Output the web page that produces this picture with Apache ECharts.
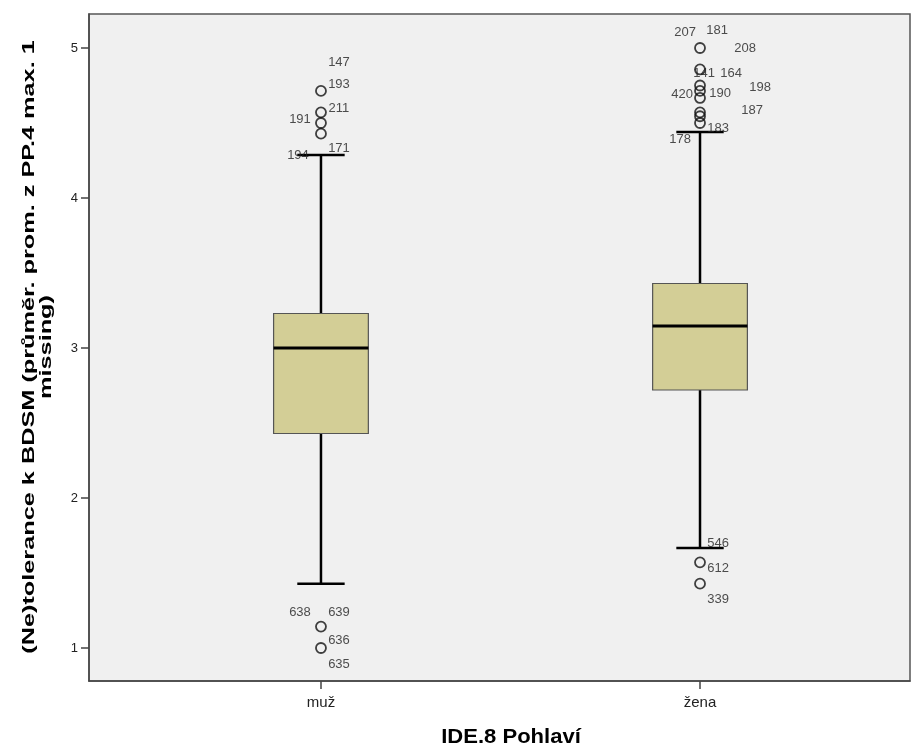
<!DOCTYPE html>
<html><head><meta charset="utf-8">
<script src="https://cdn.jsdelivr.net/npm/echarts@6/dist/echarts.min.js"></script>
<style>html,body{margin:0;padding:0;background:#fff}#c{width:920px;height:747px}</style>
</head><body><div id="c"></div>
<script>
// ---- data ----
const categories = ['muž', 'žena'];
const whiskerLow = [1.429, 1.667];
const q1 = [2.43, 2.72];
const median = [3.0, 3.147];
const q3 = [3.23, 3.43];
const whiskerHigh = [4.286, 4.44];
const outliersMuz = [4.714, 4.571, 4.5, 4.429, 1.143, 1.0];
const outliersZena = [5.0, 4.857, 4.75, 4.714, 4.667, 4.571, 4.545, 4.5, 1.571, 1.429];
const yTicks = [1, 2, 3, 4, 5];
const labelIds = ['147','193','211','191','194','171','638','639','636','635',
                  '207','181','208','141','164','198','420','190','187','183','178','546','612','339'];
const labelCat = [0,0,0,0,0,0,0,0,0,0, 1,1,1,1,1,1,1,1,1,1,1,1,1,1];
const labelVal = [4.714,4.714,4.571,4.5,4.286,4.286,1.143,1.143,1.0,1.0,
                  5.0,5.0,5.0,4.857,4.857,4.714,4.714,4.714,4.571,4.5,4.44,1.667,1.571,1.429];
const yTitle = '(Ne)tolerance k BDSM (průměr. prom. z PP.4 max. 1\nmissing)';
const xTitle = 'IDE.8 Pohlaví';
// ---- styling (label text offsets in px) ----
const labelOffset = [[18,-28],[18,-6],[18,-4],[-21,-4],[-23,0],[18,-7],[-21,-14],[18,-14],[18,-8],[18,16],
                     [-15,-16],[17,-18],[45,0],[4,4],[31,4],[60,-3],[-18,4],[20,3],[52,-2],[18,5],[-20,7],[18,-5],[18,6],[18,16]];
const boxFrac = 0.25, capFrac = 0.125;
const FONT = '"Liberation Sans", Arial, sans-serif';

const chart = echarts.init(document.getElementById('c'), null, {renderer: 'canvas'});
const boxData = categories.map((c, i) => [i, whiskerLow[i], q1[i], median[i], q3[i], whiskerHigh[i]]);
const outData = [].concat(outliersMuz.map(v => [0, v]), outliersZena.map(v => [1, v]));
const lblData = labelIds.map((id, i) => ({
  name: id, value: [labelCat[i], labelVal[i]],
  label: {offset: labelOffset[i]}
}));

chart.setOption({
  animation: false,
  backgroundColor: '#fff',
  grid: {left: 89, top: 14, right: 10, bottom: 66, show: true, backgroundColor: '#f0f0f0',
         borderColor: '#555', borderWidth: 1.5, containLabel: false, outerBoundsMode: 'none'},
  graphic: [
    {type: 'text', x: 38, y: 347, rotation: Math.PI / 2, scaleX: 1.58,
     style: {text: yTitle, font: 'bold 16px ' + FONT, fill: '#000', align: 'center',
             verticalAlign: 'middle', lineHeight: 17}},
    {type: 'text', x: 511, y: 737, scaleX: 1.05,
     style: {text: xTitle, font: 'bold 21px ' + FONT, fill: '#000', align: 'center', verticalAlign: 'middle'}}
  ],
  xAxis: {
    type: 'value', min: -0.612, max: 1.554,
    axisLine: {show: true, onZero: false, lineStyle: {color: '#444', width: 1.5}},
    axisTick: {show: true, length: 8, customValues: [0, 1], lineStyle: {color: '#444', width: 1.5}},
    axisLabel: {customValues: [0, 1], formatter: v => categories[Math.round(v)], fontFamily: FONT,
                fontSize: 15, color: '#222', margin: 14},
    splitLine: {show: false}
  },
  yAxis: {
    type: 'value', min: 0.78, max: 5.2267,
    axisLine: {show: true, onZero: false, lineStyle: {color: '#444', width: 1.5}},
    axisTick: {show: true, length: 8, customValues: yTicks, lineStyle: {color: '#444', width: 1.5}},
    axisLabel: {customValues: yTicks, fontFamily: FONT, fontSize: 13, color: '#222', margin: 11},
    splitLine: {show: false}
  },
  series: [
    {
      type: 'custom', data: boxData, encode: {x: 0, y: [1, 2, 3, 4, 5]}, z: 2,
      renderItem: function (params, api) {
        const i = api.value(0);
        const unit = api.size([1, 0])[0];
        const hw = unit * boxFrac / 2, cw = unit * capFrac / 2;
        const x = api.coord([i, api.value(3)])[0];
        const yLo = api.coord([i, api.value(1)])[1];
        const yQ1 = api.coord([i, api.value(2)])[1];
        const yMed = api.coord([i, api.value(3)])[1];
        const yQ3 = api.coord([i, api.value(4)])[1];
        const yHi = api.coord([i, api.value(5)])[1];
        const ls = {stroke: '#000', lineWidth: 2.5};
        return {type: 'group', children: [
          {type: 'line', shape: {x1: x, y1: yLo, x2: x, y2: yQ1}, style: ls},
          {type: 'line', shape: {x1: x, y1: yQ3, x2: x, y2: yHi}, style: ls},
          {type: 'line', shape: {x1: x - cw, y1: yLo, x2: x + cw, y2: yLo}, style: ls},
          {type: 'line', shape: {x1: x - cw, y1: yHi, x2: x + cw, y2: yHi}, style: ls},
          {type: 'rect', shape: {x: x - hw, y: yQ3, width: 2 * hw, height: yQ1 - yQ3},
           style: {fill: '#d3ce96', stroke: '#555', lineWidth: 1.2}},
          {type: 'line', shape: {x1: x - hw, y1: yMed, x2: x + hw, y2: yMed}, style: {stroke: '#000', lineWidth: 3}}
        ]};
      }
    },
    {
      type: 'scatter', data: outData, symbol: 'circle', symbolSize: 10, z: 3,
      itemStyle: {color: 'rgba(0,0,0,0)', borderColor: '#111', borderWidth: 1.8},
      emphasis: {disabled: true}
    },
    {
      type: 'scatter', data: lblData, symbolSize: 0, z: 4,
      label: {show: true, position: 'inside', formatter: p => p.name, fontFamily: FONT,
              fontSize: 13, color: '#222'},
      emphasis: {disabled: true}
    }
  ]
});
</script></body></html>
